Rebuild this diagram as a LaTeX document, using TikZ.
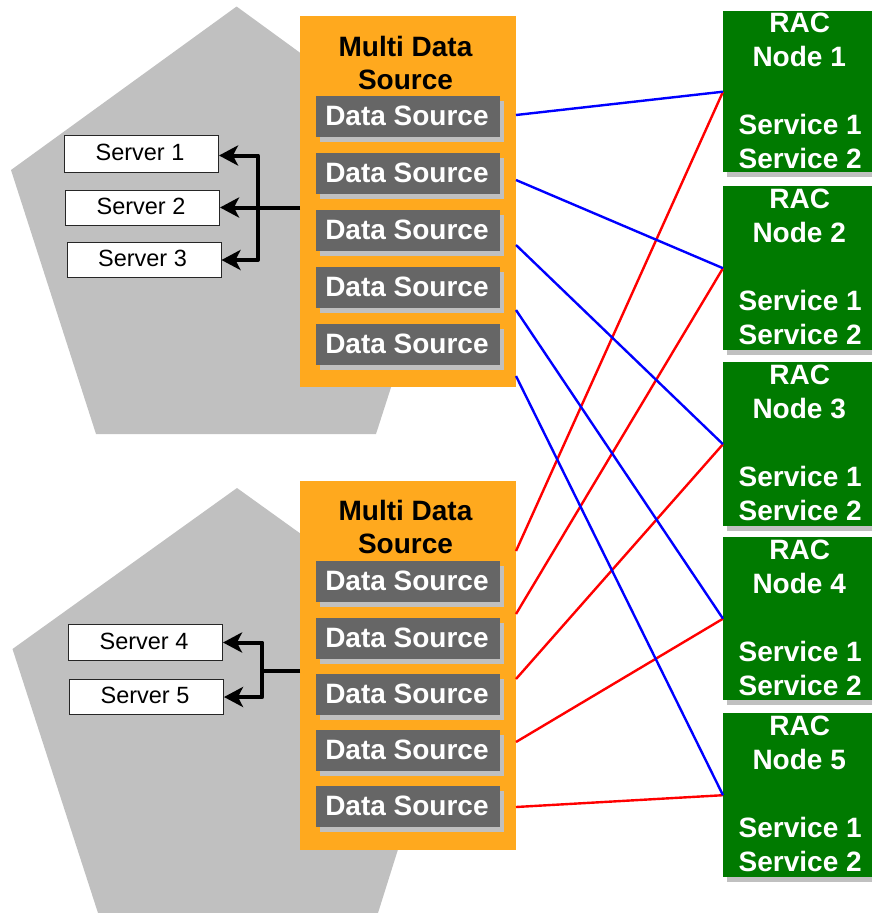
\documentclass[tikz,border=0pt]{standalone}
\usepackage{fontspec}
\setmainfont{Liberation Sans}
\usetikzlibrary{arrows.meta,shadows}
\definecolor{mdsorange}{HTML}{FFA91E}
\definecolor{podgray}{HTML}{C0C0C0}
\definecolor{dsgray}{HTML}{666666}
\definecolor{racgreen}{HTML}{007A00}
\newcommand{\dstxt}{\hspace*{-2.5pt}\raisebox{1pt}{Data Source}}
\newcommand{\srvtxt}[1]{\hspace*{-3pt}\raisebox{3pt}{Server #1}}
\newcommand{\ractxt}[1]{\hspace*{-1pt}RAC\\\hspace*{-2pt}Node #1\\\mbox{}\\Service 1\\Service 2\rule[-2pt]{0pt}{0pt}}
\tikzset{
  pod/.style={fill=podgray,draw=none},
  mds/.style={fill=mdsorange,draw=none,minimum width=216pt,inner sep=0pt,anchor=north west},
  mdstitle/.style={align=center,inner sep=0pt,font=\fontsize{28}{33}\selectfont\bfseries,text=black},
  dsbox/.style={fill=dsgray,draw=none,text=white,minimum width=184pt,minimum height=41pt,inner sep=0pt,anchor=north west,
    font=\fontsize{28}{33}\selectfont\bfseries,copy shadow={fill=podgray,draw=none,shadow xshift=4pt,shadow yshift=-5pt}},
  rac/.style={fill=racgreen,draw=none,text=white,minimum width=154pt,inner sep=0pt,align=center,anchor=north west,
    font=\fontsize{28}{34}\selectfont\bfseries,copy shadow={fill=podgray,draw=none,shadow xshift=4pt,shadow yshift=-5pt}},
  serverbox/.style={fill=white,draw=black!85,line width=1pt,minimum width=154pt,minimum height=36pt,inner sep=0pt,anchor=north west,
    font=\fontsize{23.5}{27}\selectfont},
  feed/.style={line width=4pt,draw=black,line join=round,-{Stealth[length=19pt,width=20pt,inset=5pt]}},
  trunk/.style={line width=4pt,draw=black,line join=round},
  bluelink/.style={draw=blue,line width=2.4pt},
  redlink/.style={draw=red,line width=2.4pt},
}
\begin{document}
\begin{tikzpicture}[x=1pt,y=-1pt]
\useasboundingbox (0,0) rectangle (872,913);
\clip (0,0) rectangle (872,913);
% pentagons
\fill[pod] (236.6,6.5) -- (11,170) -- (96,434) -- (376,434) -- (461,170) -- cycle;
\fill[pod] (237,488) -- (12.5,649) -- (98,913) -- (378,913) -- (461,649) -- cycle;
% multi data sources
\node[mds,minimum height=371pt] (mds1) at (300,16) {};
\node[mds,minimum height=369pt] (mds2) at (300,481) {};
\node[mdstitle] (t1) at (405.5,62.5) {Multi Data\\Source};
\node[mdstitle] (t2) at (405.5,527) {Multi Data\\Source};
\foreach \n/\y in {a/96,b/153,c/210,d/267,e/324}
  \node[dsbox] (ds1\n) at (316,\y) {\dstxt};
\foreach \n/\y in {a/561,b/618,c/674,d/730,e/786}
  \node[dsbox] (ds2\n) at (316,\y) {\dstxt};
% link ends on the orange boxes
\coordinate (b1) at (516,115);
\coordinate (b2) at (516,180);
\coordinate (b3) at (516,245);
\coordinate (b4) at (516,310);
\coordinate (b5) at (516,376);
\coordinate (r1) at (516,551);
\coordinate (r2) at (516,614);
\coordinate (r3) at (516,679);
\coordinate (r4) at (516,742);
\coordinate (r5) at (516,807);
% RAC nodes
\node[rac,minimum height=161pt] (rac1) at (723,11) {\ractxt{1}};
\node[rac,minimum height=164pt] (rac2) at (723,186) {\ractxt{2}};
\node[rac,minimum height=164pt] (rac3) at (723,362) {\ractxt{3}};
\node[rac,minimum height=163pt] (rac4) at (723,537) {\ractxt{4}};
\node[rac,minimum height=164pt] (rac5) at (723,713) {\ractxt{5}};
% links
\draw[redlink] (r1) -- (rac1.west);
\draw[redlink] (r2) -- (rac2.west);
\draw[redlink] (r3) -- (rac3.west);
\draw[redlink] (r4) -- (rac4.west);
\draw[redlink] (r5) -- (rac5.west);
\draw[bluelink] (b1) -- (rac1.west);
\draw[bluelink] (b2) -- (rac2.west);
\draw[bluelink] (b3) -- (rac3.west);
\draw[bluelink] (b4) -- (rac4.west);
\draw[bluelink] (b5) -- (rac5.west);
% servers
\node[serverbox,minimum height=37pt] (s1) at (64,135) {\srvtxt{1}};
\node[serverbox,minimum height=35pt] (s2) at (65,190) {\srvtxt{2}};
\node[serverbox,minimum height=35pt] (s3) at (66.5,242) {\srvtxt{3}};
\node[serverbox,minimum height=36pt] (s4) at (68,624) {\srvtxt{4}};
\node[serverbox,minimum height=35pt] (s5) at (69,679) {\srvtxt{5}};
% fan-out
\coordinate (h1) at (258,207.5);
\coordinate (h2) at (262.3,670.7);
\draw[feed] (mds1.west |- h1) -- (s2.east |- h1);
\draw[feed] (h1) |- ([yshift=-1.5pt]s1.east);
\draw[feed] (h1) |- (s3.east);
\draw[trunk] (mds2.west |- h2) -- (h2);
\draw[feed] (h2) |- (s4.east);
\draw[feed] (h2) |- (s5.east);
\end{tikzpicture}
\end{document}
